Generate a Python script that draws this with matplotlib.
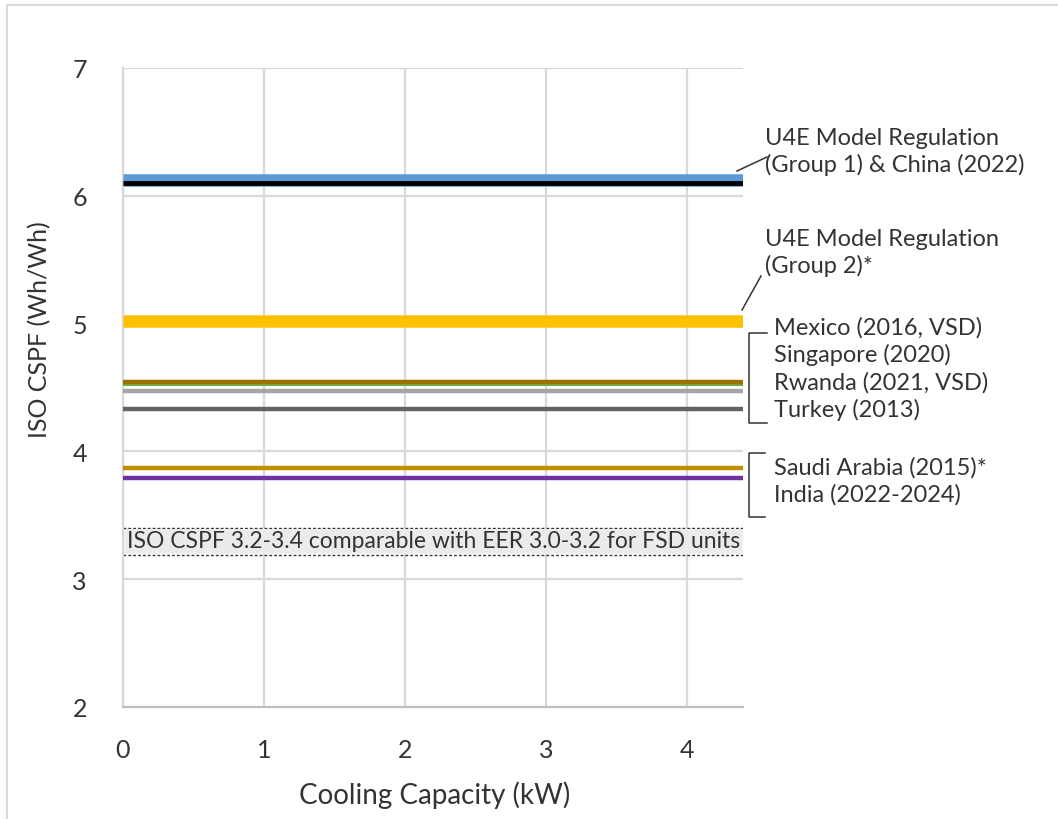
import numpy as np
import matplotlib.pyplot as plt

plt.rcParams['font.family'] = ['Lato', 'DejaVu Sans']

# capacity range covered by each requirement (kW)
capacity = [0, 4.4]

# requirement levels, ISO CSPF (Wh/Wh)
u4e_group1 = 6.12
china_2022 = 6.10
u4e_group2 = 5.02
singapore = 4.54
mexico = 4.52
rwanda = 4.47
turkey = 4.33
saudi = 3.87
india = 3.79
band_low, band_high = 3.2, 3.4

band_text = 'ISO CSPF 3.2-3.4 comparable with EER 3.0-3.2 for FSD units'
grp1_text = 'U4E Model Regulation\n(Group 1) & China (2022)'
grp2_text = 'U4E Model Regulation\n(Group 2)*'
mid_text = 'Mexico (2016, VSD)\nSingapore (2020)\nRwanda (2021, VSD)\nTurkey (2013)'
low_text = 'Saudi Arabia (2015)*\nIndia (2022-2024)'

txt_col = '#333333'
grid_col = '#D9D9D9'

fig = plt.figure(figsize=(10.58, 8.2), dpi=100)
ax = fig.add_axes([123/1058, 1-708/820, (743-123)/1058, (708-69)/820])

# band behind everything
ax.fill_between(capacity, band_low, band_high, color='#F2F2F2', lw=0, zorder=1)
ax.plot(capacity, [band_high]*2, color='#333333', lw=1, ls=(0, (2, 1.5)), zorder=2)
ax.plot(capacity, [band_low - 0.01]*2, color='#333333', lw=1, ls=(0, (2, 1.5)), zorder=2)
ax.text(0.03, (band_low+band_high)/2, band_text, fontsize=16.5, color=txt_col,
        va='center', ha='left', zorder=3, clip_on=False,
        bbox=dict(facecolor='#EBEBEB', edgecolor='none', pad=1.0))

# requirement lines
ax.plot(capacity, [u4e_group1]*2, color='#5B9BD5', lw=9, solid_capstyle='butt', zorder=4)
ax.plot(capacity, [china_2022]*2, color='black', lw=3.5, solid_capstyle='butt', zorder=5)
ax.plot(capacity, [u4e_group2]*2, color='#FFC000', lw=9, solid_capstyle='butt', zorder=4)
ax.plot(capacity, [mexico]*2, color='#70AD47', lw=1.5, solid_capstyle='butt', zorder=4)
ax.plot(capacity, [singapore]*2, color='#997300', lw=3.2, solid_capstyle='butt', zorder=5)
ax.plot(capacity, [rwanda]*2, color='#A5A5A5', lw=3.2, solid_capstyle='butt', zorder=4)
ax.plot(capacity, [turkey]*2, color='#636363', lw=3.2, solid_capstyle='butt', zorder=4)
ax.plot(capacity, [saudi]*2, color='#BF9000', lw=3.2, solid_capstyle='butt', zorder=4)
ax.plot(capacity, [india]*2, color='#7030A0', lw=3.2, solid_capstyle='butt', zorder=4)

ax.set_xlim(0, 4.4)
ax.set_ylim(2, 7)
ax.set_xticks([0, 1, 2, 3, 4])
ax.set_yticks([2, 3, 4, 5, 6, 7])
ax.grid(True, color=grid_col, lw=1.6, zorder=0)
ax.set_axisbelow(True)
for s in ['top', 'right']:
    ax.spines[s].set_visible(False)
ax.spines['left'].set_color(grid_col)
ax.spines['left'].set_linewidth(1.6)
ax.spines['bottom'].set_color('#BFBFBF')
ax.spines['bottom'].set_linewidth(1.6)
ax.tick_params(length=0, labelsize=18, colors=txt_col)
ax.tick_params(axis='x', pad=22)
ax.tick_params(axis='y', pad=26)

# labels on the right
def px(x, y):
    return (x/1058, 1-y/820)

fig.text(*px(765, 152), grp1_text, fontsize=17, color=txt_col, va='center', ha='left', linespacing=1.3)
fig.text(*px(765, 253), grp2_text, fontsize=17, color=txt_col, va='center', ha='left', linespacing=1.3)
fig.text(*px(774, 369), mid_text, fontsize=17, color=txt_col, va='center', ha='left', linespacing=1.3)
fig.text(*px(774, 481), low_text, fontsize=17, color=txt_col, va='center', ha='left', linespacing=1.3)

# leader lines and brackets
for xs, ys in [([737, 767], [172, 158]),
               ([742, 761], [311, 277]),
               ([767, 749, 749, 767], [334, 334, 424, 424]),
               ([765, 749, 749, 765], [454, 454, 518, 518])]:
    fig.add_artist(plt.Line2D([x/1058 for x in xs], [1-y/820 for y in ys],
                              color='#333333', lw=1.1, transform=fig.transFigure))

# axis titles
fig.text(*px(40, 330), 'ISO CSPF (Wh/Wh)', fontsize=18, color=txt_col, rotation=90,
         va='center', ha='center')
fig.text(*px(435, 795), 'Cooling Capacity (kW)', fontsize=20, color=txt_col,
         va='center', ha='center')

# chart border
fig.add_artist(plt.Line2D([7/1058, 7/1058, 1], [0, 1-6/820, 1-6/820], color='#D9D9D9',
                          lw=1.5, transform=fig.transFigure))

fig.savefig('out.png', dpi=100)
